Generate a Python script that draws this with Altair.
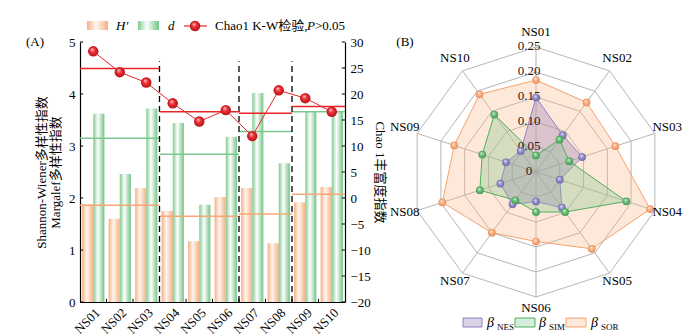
import altair as alt
import pandas as pd

FONT = "Liberation Serif, Times New Roman, Noto Sans CJK SC"

# ---------------- data ----------------
sites = ["NS01", "NS02", "NS03", "NS04", "NS05", "NS06", "NS07", "NS08", "NS09", "NS10"]
shannon = [1.88, 1.60, 2.19, 1.75, 1.17, 2.02, 2.19, 1.13, 1.92, 2.21]
margalef = [3.62, 2.46, 3.72, 3.44, 1.87, 3.18, 4.02, 2.67, 3.66, 3.66]
chao1 = [28.2, 24.2, 22.2, 18.2, 14.7, 16.9, 11.9, 20.7, 19.2, 16.6]

group_first = [0, 3, 6, 8]
group_last = [2, 5, 7, 9]
shannon_mean = [1.86, 1.65, 1.69, 2.07]
margalef_mean = [3.15, 2.84, 3.28, 3.66]
chao1_mean = [24.9, 16.6, 16.3, 17.6]
group_breaks = [3, 6, 8]
break_top = 4.63

left_ticks = [0, 1, 2, 3, 4, 5]
right_ticks = [-20, -15, -10, -5, 0, 5, 10, 15, 20, 25, 30]

beta_nes = [0.149, 0.091, 0.097, 0.050, 0.088, 0.059, 0.080, 0.075, 0.063, 0.052]
beta_sim = [0.033, 0.080, 0.070, 0.190, 0.099, 0.080, 0.070, 0.118, 0.113, 0.142]
beta_sor = [0.184, 0.172, 0.167, 0.240, 0.190, 0.139, 0.150, 0.197, 0.172, 0.192]
ring_levels = [0.05, 0.10, 0.15, 0.20, 0.25]
ring_values = [0, 0.05, 0.10, 0.15, 0.20, 0.25]
ring_texts = ["0", "0.05", "0.10", "0.15", "0.20", "0.25"]

left_title = ["Shannon-Wiener多样性指数", "Margalef多样性指数"]
right_title = "Chao 1丰富度指数"
legend_a = ["H′", "d", "Chao1 K-W检验,", "P", ">0.05"]
legend_b = ["β", "NES", "SIM", "SOR"]

# ---------------- styles ----------------
ORANGE = "#f5a36b"
GREEN = "#4fb05e"
PURPLE = "#8b84c4"
RED = "#e8262a"


def lin_grad(edge, mid, edge2):
    return alt.LinearGradient(
        gradient="linear",
        stops=[alt.GradientStop(color=edge, offset=0),
               alt.GradientStop(color=mid, offset=0.42),
               alt.GradientStop(color=edge2, offset=1)],
        x1=0, x2=1, y1=0, y2=0)


def sphere(light, mid, dark):
    return alt.RadialGradient(
        gradient="radial",
        stops=[alt.GradientStop(color=light, offset=0),
               alt.GradientStop(color=mid, offset=0.45),
               alt.GradientStop(color=dark, offset=1)],
        x1=0.38, y1=0.3, r1=0, x2=0.5, y2=0.5, r2=0.5)


orange_grad = lin_grad("#f6b084", "#fff6ef", "#f6b084")
green_grad = lin_grad("#80ca91", "#ffffff", "#74c486")
red_sphere = sphere("#ffd6d6", "#ef3035", "#b3121a")

# ---------------- panel A ----------------
xA = alt.Scale(domain=[0, 10], range=[80, 345], nice=False, zero=False)
yL = alt.Scale(domain=[0, 5], range=[302, 42], nice=False, zero=False)
yR = alt.Scale(domain=[-20, 30], range=[302, 42], nice=False, zero=False)

df_sites = pd.DataFrame({"idx": list(range(10)), "site": sites, "shannon": shannon,
                         "margalef": margalef, "chao1": chao1})
df_groups = pd.DataFrame({"g0": group_first, "g1": group_last, "shannon_mean": shannon_mean,
                          "margalef_mean": margalef_mean, "chao1_mean": chao1_mean})

x_axis = alt.Axis(orient="bottom", offset=-34, values=[i + 0.5 for i in range(10)],
                  labelExpr=f"{sites}[floor(datum.value)]", labelAngle=-45, ticks=False,
                  labelOverlap=False, labelBound=False, labelFlush=False,
                  labelAlign="right", labelBaseline="top",
                  labelPadding=4, title=None, grid=False, domainColor="black", domainWidth=1.2)
yL_axis = alt.Axis(orient="left", offset=-80, values=left_ticks, ticks=False, labelPadding=5,
                   title=left_title, titlePadding=6, titleLineHeight=14, grid=False,
                   domainColor="black", domainWidth=1.2)
yR_axis = alt.Axis(orient="right", offset=-354, values=right_ticks, ticks=False, labelPadding=5,
                   title=right_title, titleAngle=90, titlePadding=2, grid=False,
                   domainColor="black", domainWidth=1.2)

base = alt.Chart(df_sites).transform_calculate(
    xs="datum.idx + 0.08", xm="datum.idx + 0.5", xe="datum.idx + 0.92", zero="0")

h_bars = base.mark_rect(color=orange_grad).encode(
    x=alt.X("xs:Q", scale=xA, axis=x_axis), x2="xm:Q",
    y=alt.Y("shannon:Q", scale=yL, axis=yL_axis), y2="zero:Q")
d_bars = base.mark_rect(color=green_grad).encode(
    x=alt.X("xm:Q", scale=xA, axis=None), x2="xe:Q",
    y=alt.Y("margalef:Q", scale=yL, axis=None), y2="zero:Q")

gbase = alt.Chart(df_groups).transform_calculate(gx0="datum.g0", gx1="datum.g1 + 1")
h_mean = gbase.mark_rule(color="#f6a878", strokeWidth=1.5).encode(
    x=alt.X("gx0:Q", scale=xA, axis=None), x2="gx1:Q",
    y=alt.Y("shannon_mean:Q", scale=yL, axis=None))
d_mean = gbase.mark_rule(color="#7cc88d", strokeWidth=1.5).encode(
    x=alt.X("gx0:Q", scale=xA, axis=None), x2="gx1:Q",
    y=alt.Y("margalef_mean:Q", scale=yL, axis=None))

df_breaks = pd.DataFrame({"b": group_breaks})
breaks = alt.Chart(df_breaks).transform_calculate(y0="0", y1=str(break_top)).mark_rule(
    color="black", strokeWidth=1.3, strokeDash=[6, 4]).encode(
    x=alt.X("b:Q", scale=xA, axis=None),
    y=alt.Y("y0:Q", scale=yL, axis=None), y2="y1:Q")

df_lt = pd.DataFrame({"v": left_ticks})
lticks = alt.Chart(df_lt).transform_calculate(a="0", b="0.12").mark_rule(
    color="black", strokeWidth=1).encode(
    x=alt.X("a:Q", scale=xA, axis=None), x2="b:Q", y=alt.Y("v:Q", scale=yL, axis=None))
df_bt = pd.DataFrame({"v": list(range(1, 10))})
bticks = alt.Chart(df_bt).transform_calculate(a="0", b="0.06").mark_rule(
    color="black", strokeWidth=1).encode(
    x=alt.X("v:Q", scale=xA, axis=None), y=alt.Y("a:Q", scale=yL, axis=None), y2="b:Q")

df_rt = pd.DataFrame({"v": right_ticks})
rticks = alt.Chart(df_rt).transform_calculate(a="9.88", b="10").mark_rule(
    color="black", strokeWidth=1).encode(
    x=alt.X("a:Q", scale=xA, axis=None), x2="b:Q",
    y=alt.Y("v:Q", scale=yR, axis=yR_axis))
c_mean = gbase.mark_rule(color=RED, strokeWidth=1.5).encode(
    x=alt.X("gx0:Q", scale=xA, axis=None), x2="gx1:Q",
    y=alt.Y("chao1_mean:Q", scale=yR, axis=None))
c_line = base.mark_line(color=RED, strokeWidth=1).encode(
    x=alt.X("xm:Q", scale=xA, axis=None), y=alt.Y("chao1:Q", scale=yR, axis=None),
    order="idx:Q")
c_pts = base.mark_point(shape="circle", filled=True, fill=red_sphere, opacity=1,
                        size=110, strokeWidth=0).encode(
    x=alt.X("xm:Q", scale=xA, axis=None), y=alt.Y("chao1:Q", scale=yR, axis=None))

panelA = [h_bars, d_bars, h_mean, d_mean, breaks, lticks, bticks,
          rticks, c_mean, c_line, c_pts]

# ---------------- panel B ----------------
xB = alt.Scale(domain=[-0.25, 0.25], range=[411, 661], nice=False, zero=False)
yB = alt.Scale(domain=[-0.25, 0.25], range=[297, 47], nice=False, zero=False)
ANG = "datum.idx * 2 * PI / 10"

df_grid = pd.DataFrame([{"level": lv, "idx": i} for lv in ring_levels for i in range(10)])
grid = alt.Chart(df_grid).transform_calculate(
    ang=ANG, gx="datum.level * sin(datum.ang)", gy="datum.level * cos(datum.ang)"
).mark_line(interpolate="linear-closed", stroke="#b5b5b5", strokeWidth=1).encode(
    x=alt.X("gx:Q", scale=xB, axis=None), y=alt.Y("gy:Q", scale=yB, axis=None),
    detail="level:N", order="idx:Q")

rmax = max(ring_levels)
df_spoke = pd.DataFrame({"idx": list(range(10)), "site": sites})
spokes = alt.Chart(df_spoke).transform_calculate(
    ang=ANG, cx="0", cy="0", ex=f"{rmax} * sin(datum.ang)", ey=f"{rmax} * cos(datum.ang)"
).mark_rule(color="#b5b5b5", strokeWidth=1).encode(
    x=alt.X("cx:Q", scale=xB, axis=None), y=alt.Y("cy:Q", scale=yB, axis=None),
    x2="ex:Q", y2="ey:Q")

site_labels = alt.Chart(df_spoke).transform_calculate(
    ang=ANG, lx="0.276 * sin(datum.ang)", ly="0.276 * cos(datum.ang)"
).mark_text(font=FONT, fontSize=13, color="black", align="center", baseline="middle",
            dy=-2.5).encode(
    x=alt.X("lx:Q", scale=xB, axis=None), y=alt.Y("ly:Q", scale=yB, axis=None), text="site:N")

df_rv = pd.DataFrame({"v": ring_values, "t": ring_texts})
ring_lab = alt.Chart(df_rv).transform_calculate(z="0").mark_text(
    font=FONT, fontSize=13, color="#222", align="center", baseline="middle", dx=-7, dy=-1
).encode(x=alt.X("z:Q", scale=xB, axis=None), y=alt.Y("v:Q", scale=yB, axis=None), text="t:N")


def radar(vals, stroke, fill, grad, op):
    df = pd.DataFrame({"idx": list(range(10)), "value": vals})
    b = alt.Chart(df).transform_calculate(
        ang=ANG, px="datum.value * sin(datum.ang)", py="datum.value * cos(datum.ang)")
    poly = b.mark_line(interpolate="linear-closed", stroke=stroke, strokeWidth=1,
                       fill=fill, fillOpacity=op).encode(
        x=alt.X("px:Q", scale=xB, axis=None), y=alt.Y("py:Q", scale=yB, axis=None),
        order="idx:Q")
    pts = b.mark_point(shape="circle", filled=True, fill=grad, opacity=1, size=60,
                       strokeWidth=0).encode(
        x=alt.X("px:Q", scale=xB, axis=None), y=alt.Y("py:Q", scale=yB, axis=None))
    return poly, pts


sor_poly, sor_pts = radar(beta_sor, ORANGE, "#f8b88b",
                          sphere("#fff0e4", "#f8b48a", "#e98f5a"), 0.32)
nes_poly, nes_pts = radar(beta_nes, PURPLE, "#9a7fb8",
                          sphere("#eceaf8", "#9d97cf", "#6f68ab"), 0.35)
sim_poly, sim_pts = radar(beta_sim, GREEN, "#7cc487",
                          sphere("#e6f6e8", "#76c283", "#3f9b4d"), 0.3)

panelB = [grid, spokes, sor_poly, nes_poly, sim_poly, ring_lab,
          sor_pts, nes_pts, sim_pts, site_labels]

# ---------------- legends & panel labels ----------------
one = pd.DataFrame({"k": [0]})
o = alt.Chart(one)


def txt(s, x, y, size=13, style="normal", align="left"):
    return o.mark_text(text=s, font=FONT, fontSize=size, fontStyle=style, color="black",
                       align=align, baseline="middle").encode(x=alt.value(x), y=alt.value(y))


def swatch(x0, x1, y0, y1, fill, stroke=None, op=1.0):
    kw = dict(fill=fill, fillOpacity=op)
    if stroke:
        kw.update(stroke=stroke, strokeWidth=1)
    return o.mark_rect(**kw).encode(x=alt.value(x0), x2=alt.value(x1),
                                    y=alt.value(y0), y2=alt.value(y1))


legA = [
    swatch(87, 108, 21, 30, orange_grad),
    txt(legend_a[0], 116, 26, style="italic"),
    swatch(138, 159, 21, 30, green_grad),
    txt(legend_a[1], 168, 26, style="italic"),
    o.mark_rule(color=RED, strokeWidth=1.2).encode(x=alt.value(184), x2=alt.value(207),
                                                   y=alt.value(26)),
    o.mark_point(shape="circle", filled=True, fill=red_sphere, opacity=1, size=110,
                 strokeWidth=0).encode(x=alt.value(195), y=alt.value(26)),
    txt(legend_a[2], 215, 26),
    txt(legend_a[3], 307, 26, style="italic"),
    txt(legend_a[4], 315, 26),
]

legB = [
    swatch(463, 482, 318, 327, "#9a7fb8", PURPLE, 0.35),
    txt(legend_b[0], 487, 323, size=14, style="italic"),
    txt(legend_b[1], 497, 327, size=9),
    swatch(515, 535, 318, 327, "#7cc487", GREEN, 0.3),
    txt(legend_b[0], 539, 323, size=14, style="italic"),
    txt(legend_b[2], 549, 327, size=9),
    swatch(566, 586, 318, 327, "#f8b88b", ORANGE, 0.32),
    txt(legend_b[0], 591, 323, size=14, style="italic"),
    txt(legend_b[3], 601, 327, size=9),
]

panel_labels = [txt("(A)", 35, 42, align="center"), txt("(B)", 405, 42, align="center")]

chart = alt.layer(*panelA, *panelB, *legA, *legB, *panel_labels).resolve_scale(
    x="independent", y="independent"
).properties(
    width=699, height=336, padding=0, autosize="none", background="white"
).configure_view(stroke=None).configure_axis(
    labelFont=FONT, titleFont=FONT, labelFontSize=13, titleFontSize=13,
    labelColor="black", titleColor="black", titleFontWeight="normal", grid=False
)

chart.save("out.html", embed_options={"renderer": "svg", "actions": False})
